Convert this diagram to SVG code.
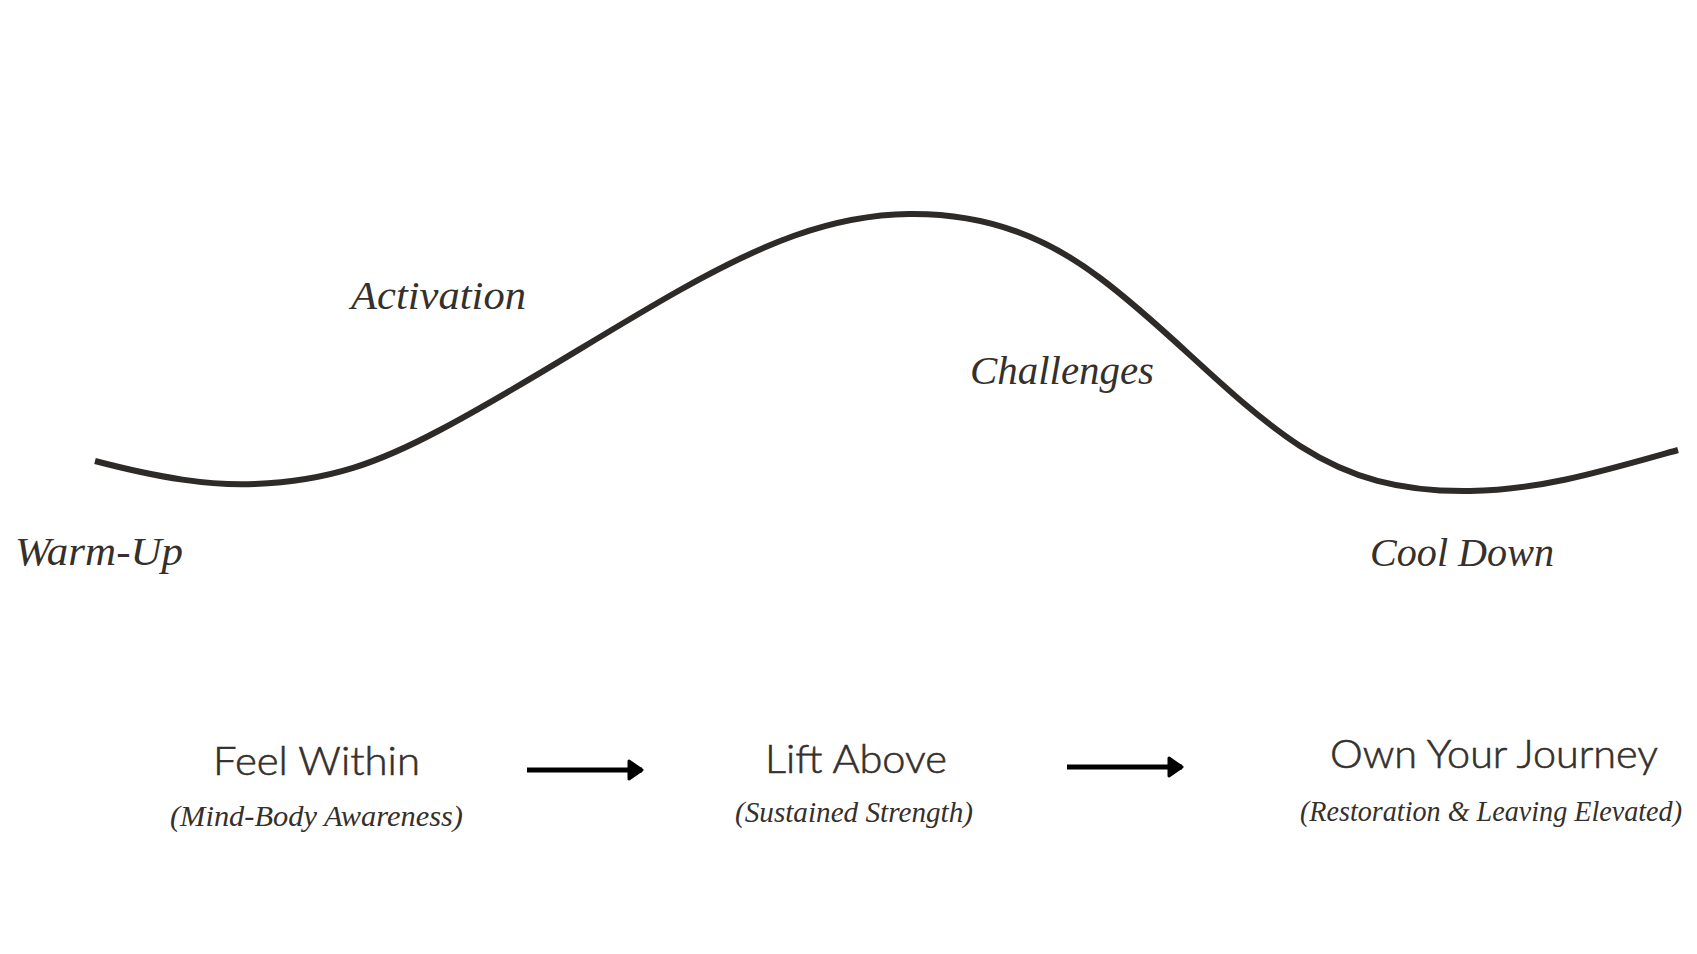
<svg xmlns="http://www.w3.org/2000/svg" width="1697" height="954" viewBox="0 0 1697 954">
<style>
.it{font-family:"Liberation Serif","Times New Roman",serif;font-style:italic;fill:#35302c}
.big{font-size:41px}
.sub{font-size:29px}
.sans{font-family:Lato,"Open Sans","Liberation Sans",sans-serif;font-size:39px;font-weight:300;fill:#35302c;stroke:#35302c;stroke-width:0.6}
.curve{fill:none;stroke:#2e2a27;stroke-width:6;stroke-linecap:butt}
.arrow{stroke:#000;stroke-width:5;fill:none}
</style>
<defs>
<marker id="ah" markerUnits="userSpaceOnUse" markerWidth="22" markerHeight="26" refX="15" refY="11" orient="auto">
<path d="M2,2 L15,11 L2,20 Z" fill="#000" stroke="#000" stroke-width="3" stroke-linejoin="round"/>
</marker>
</defs>
<rect width="1697" height="954" fill="#fff"/>
<g id="curve">
<path class="curve" d="M95,461 C160,478 210,486 255,484 C330,481 380,462 440,430 C520,388 600,335 680,290 C760,245 830,215 909,214 C990,213 1050,240 1100,278 C1170,330 1230,400 1300,446 C1350,478 1400,492 1470,491 C1540,490 1600,472 1678,450"/>
</g>
<g id="phase-labels">
<text id="warmup" class="it big" x="15" y="565" textLength="168" lengthAdjust="spacingAndGlyphs">Warm-Up</text>
<text id="activation" class="it big" x="351" y="309" textLength="175" lengthAdjust="spacingAndGlyphs">Activation</text>
<text id="challenges" class="it big" x="970" y="384" textLength="184" lengthAdjust="spacingAndGlyphs">Challenges</text>
<text id="cooldown" class="it big" x="1370" y="566" textLength="184" lengthAdjust="spacingAndGlyphs">Cool Down</text>
</g>
<g id="feel-within">
<text class="sans" x="213" y="775" textLength="207" lengthAdjust="spacingAndGlyphs">Feel Within</text>
<text class="it sub" x="170" y="826" textLength="293" lengthAdjust="spacingAndGlyphs">(Mind-Body Awareness)</text>
</g>
<g id="lift-above">
<text class="sans" x="765" y="773" textLength="182" lengthAdjust="spacingAndGlyphs">Lift Above</text>
<text class="it sub" x="735" y="822" textLength="238" lengthAdjust="spacingAndGlyphs">(Sustained Strength)</text>
</g>
<g id="own-your-journey">
<text class="sans" x="1330" y="768" textLength="328" lengthAdjust="spacingAndGlyphs">Own Your Journey</text>
<text class="it sub" x="1300" y="821" textLength="382" lengthAdjust="spacingAndGlyphs">(Restoration &amp; Leaving Elevated)</text>
</g>
<g id="connectors">
<line class="arrow" x1="527" y1="770" x2="642" y2="770" marker-end="url(#ah)"/>
<line class="arrow" x1="1067" y1="767" x2="1182" y2="767" marker-end="url(#ah)"/>
</g>
</svg>
